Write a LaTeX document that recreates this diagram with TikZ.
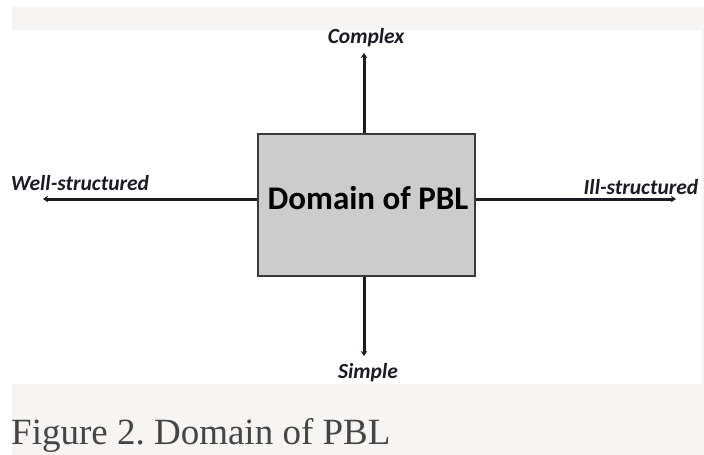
\documentclass[tikz,border=0pt]{standalone}
\usepackage{fontspec}
\setmainfont{Carlito}
\newfontfamily\capfont{Liberation Serif}
\usetikzlibrary{arrows.meta}
\definecolor{bandgray}{HTML}{F6F5F3}
\definecolor{boxfill}{HTML}{CCCCCD}
\definecolor{boxedge}{HTML}{3A3A3A}
\definecolor{inkdark}{HTML}{1B1B24}
\definecolor{capgray}{HTML}{454545}
\tikzset{
  axis/.style={line width=3pt, draw=inkdark, -{Stealth[length=5pt,width=6.5pt]}},
  endlabel/.style={font=\fontsize{21.5}{22}\selectfont\bfseries\itshape, text=inkdark, inner sep=0pt},
  domainbox/.style={draw=boxedge, line width=1.8pt, fill=boxfill, minimum width=217pt, minimum height=142pt, inner sep=0pt},
}
\begin{document}
\frenchspacing
\begin{tikzpicture}[x=1pt,y=-1pt]
  \useasboundingbox (0,0) rectangle (704,455);
  % page band and white figure panel
  \fill[bandgray] (12,7) rectangle (704,455);
  \fill[white] (12,30) rectangle (702,384);

  % central domain box
  \node[domainbox] (box) at (366.5,205) {};
  \node[font=\fontsize{33}{34}\selectfont\bfseries, text=black, inner sep=0pt] (title) at (368,198) {Domain of PBL};

  % axis end points
  \coordinate (topend) at (364,53);
  \coordinate (botend) at (364,356);
  \coordinate (leftend) at (43,199);
  \coordinate (rightend) at (676,199);

  \draw[axis] (box.north -| topend) -- (topend);
  \draw[axis] (box.south -| botend) -- (botend);
  \draw[axis] (box.west |- leftend) -- (leftend);
  \draw[axis] (box.east |- rightend) -- (rightend);

  % axis labels
  \node[endlabel] (complex) at (366,38) {Complex};
  \node[endlabel] (simple) at (368,373) {Simple};
  \node[endlabel] (well) at (80,183) {Well-structured};
  \node[endlabel] (ill) at (641,187) {Ill-structured};

  % caption
  \node[anchor=base west, inner sep=0pt, text=capgray, font=\capfont\fontsize{37}{39}\selectfont] (caption) at (11,444) {Figure 2. Domain of PBL};
\end{tikzpicture}
\end{document}
